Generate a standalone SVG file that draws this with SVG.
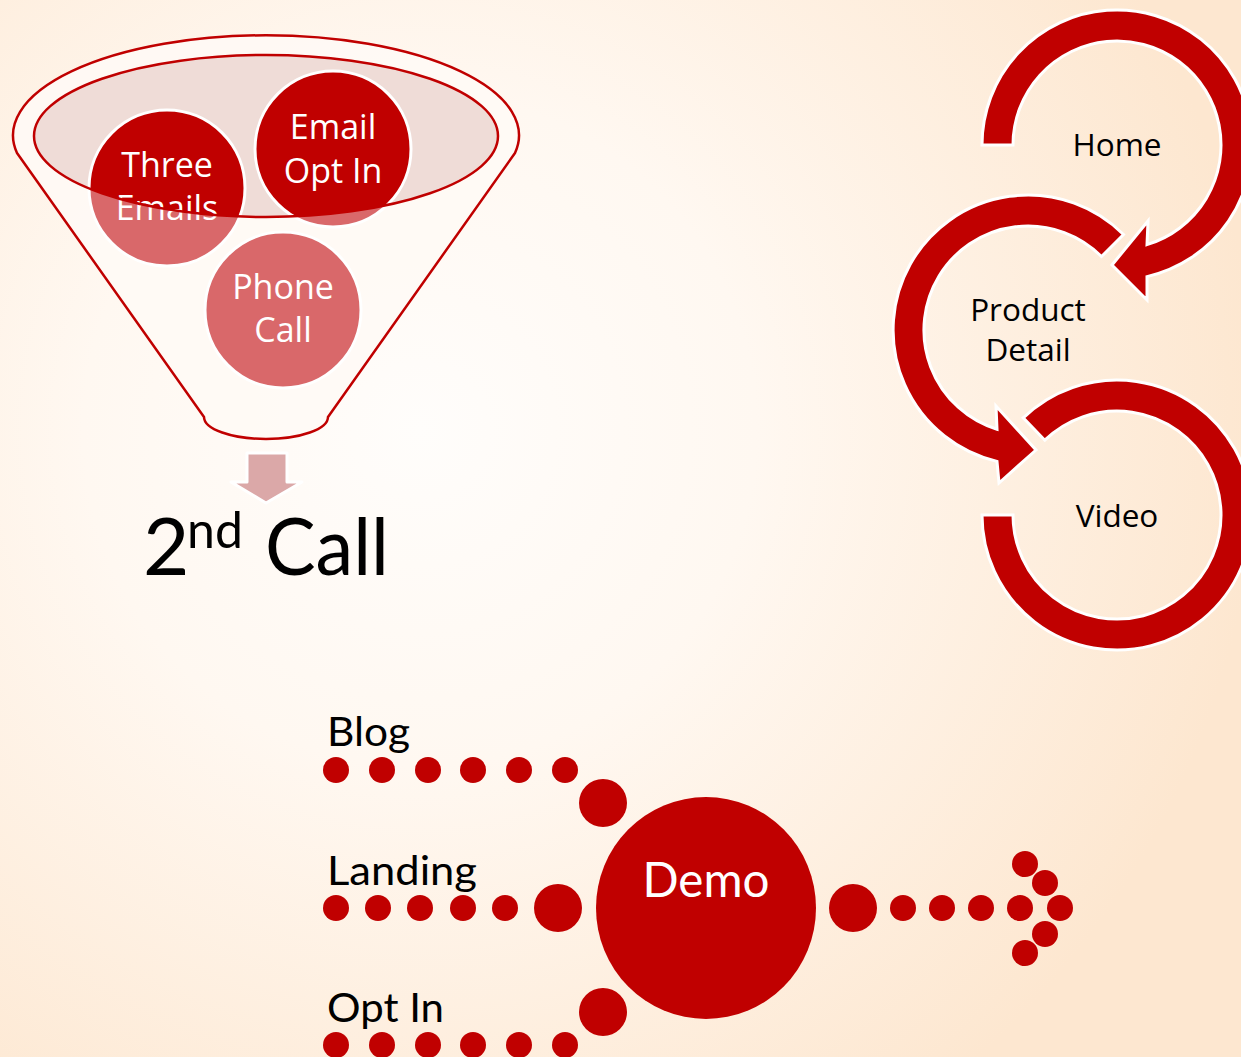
<svg xmlns="http://www.w3.org/2000/svg" width="1241" height="1057" viewBox="0 0 1241 1057">
<defs>
  <radialGradient id="bg" cx="420" cy="430" r="840" gradientUnits="userSpaceOnUse">
    <stop offset="0" stop-color="#fffdfb"/>
    <stop offset="0.4" stop-color="#fff8f1"/>
    <stop offset="1" stop-color="#fde7d0"/>
  </radialGradient>
  <clipPath id="rimClip">
    <ellipse cx="266" cy="136" rx="232" ry="81"/>
  </clipPath>
  <style>
    .red{fill:#c00000}
    .light{fill:#d9686a}
    .ring{fill:#c00000;stroke:#ffffff;stroke-width:3;stroke-linejoin:miter}
    .ftxt{font-family:"Open Sans","DejaVu Sans",sans-serif;font-size:34px;fill:#ffffff;text-anchor:middle}
    .rtxt{font-family:"Open Sans","DejaVu Sans",sans-serif;font-size:31.5px;fill:#000000;text-anchor:middle}
    .ctxt{font-family:Lato,"Liberation Sans",sans-serif;fill:#000000}
    .dot{fill:#c00000}
  </style>
</defs>
<rect x="0" y="0" width="1241" height="1057" fill="url(#bg)"/>

<g id="funnel">
  <path d="M17,153 A253,100 0 1 1 515,153 L328,417 A62,22 0 0 1 204,417 Z" fill="#fff9f5" fill-opacity="0.9" stroke="#c00000" stroke-width="2.5" stroke-linejoin="round"/>
  <ellipse cx="266" cy="136" rx="232" ry="81" fill="#efdcd7"/>
</g>

<g id="node-three-emails">
  <circle cx="167" cy="188" r="78" class="light"/>
  <circle cx="167" cy="188" r="78" class="red" clip-path="url(#rimClip)"/>
  <circle cx="167" cy="188" r="78" fill="none" stroke="#ffffff" stroke-width="3"/>
  <text class="ftxt" x="167" y="177">Three</text>
  <text class="ftxt" x="167" y="220">Emails</text>
</g>
<g id="node-email-opt-in">
  <circle cx="333" cy="149" r="78" class="light"/>
  <circle cx="333" cy="149" r="78" class="red" clip-path="url(#rimClip)"/>
  <circle cx="333" cy="149" r="78" fill="none" stroke="#ffffff" stroke-width="3"/>
  <text class="ftxt" x="333" y="139">Email</text>
  <text class="ftxt" x="333" y="183">Opt In</text>
</g>
<g id="node-phone-call">
  <circle cx="283" cy="310" r="78" class="light" stroke="#ffffff" stroke-width="3"/>
  <text class="ftxt" x="283" y="299">Phone</text>
  <text class="ftxt" x="283" y="342">Call</text>
</g>
<g id="funnel-rim">
  <ellipse cx="266" cy="136" rx="232" ry="81" fill="none" stroke="#c00000" stroke-width="2.5"/>
</g>

<g id="node-2nd-call">
  <polygon points="247,453 287,453 287,482 302,482 266,503 231,482 247,482" fill="#dba8a8" stroke="#ffffff" stroke-width="3" stroke-linejoin="round"/>
  <text class="ctxt" x="143" y="575" font-size="80">2</text>
  <text class="ctxt" x="187" y="548" font-size="50">nd</text>
  <text class="ctxt" x="265" y="575" font-size="80" textLength="124" lengthAdjust="spacingAndGlyphs">Call</text>
</g>

<g id="node-video">
  <path class="ring" d="M1023.2,417.9 A135,135 0 1 1 982,515 L1013,515 A104,104 0 1 0 1044.8,440.2 Z"/>
  <text class="rtxt" x="1117" y="527">Video</text>
</g>
<g id="node-product-detail">
  <path class="ring" d="M1123.5,234.5 A135,135 0 1 0 997,461.4 L999,483 L1036,450 L996,406 L997,429.3 A104,104 0 1 1 1101.5,256.5 Z"/>
  <text class="rtxt" x="1028" y="321">Product</text>
  <text class="rtxt" x="1028" y="361">Detail</text>
</g>
<g id="node-home">
  <path class="ring" d="M982,145 A135,135 0 1 1 1147,276.6 L1147,300 L1112,265 L1148,221 L1147,244.6 A104,104 0 1 0 1013,145 Z"/>
  <text class="rtxt" x="1117" y="156">Home</text>
</g>

<g id="node-blog">
  <text class="ctxt" x="327" y="746" font-size="41" textLength="83" lengthAdjust="spacingAndGlyphs">Blog</text>
</g>
<g id="node-landing">
  <text class="ctxt" x="327" y="885" font-size="41" textLength="150" lengthAdjust="spacingAndGlyphs">Landing</text>
</g>
<g id="node-opt-in">
  <text class="ctxt" x="327" y="1022" font-size="41" textLength="117" lengthAdjust="spacingAndGlyphs">Opt In</text>
</g>
<g id="node-demo">
  <ellipse cx="706" cy="908" rx="110" ry="111" class="red"/>
  <text x="706" y="897" font-family="Lato,'Liberation Sans',sans-serif" font-size="48" fill="#ffffff" text-anchor="middle" textLength="127" lengthAdjust="spacingAndGlyphs">Demo</text>
</g>

<g id="connectors">
  <g id="blog-to-demo">
    <circle class="dot" cx="336" cy="770" r="13"/>
    <circle class="dot" cx="382" cy="770" r="13"/>
    <circle class="dot" cx="428" cy="770" r="13"/>
    <circle class="dot" cx="473" cy="770" r="13"/>
    <circle class="dot" cx="519" cy="770" r="13"/>
    <circle class="dot" cx="565" cy="770" r="13"/>
    <circle class="dot" cx="603" cy="803" r="24"/>
  </g>
  <g id="landing-to-demo">
    <circle class="dot" cx="336" cy="908" r="13"/>
    <circle class="dot" cx="378" cy="908" r="13"/>
    <circle class="dot" cx="420" cy="908" r="13"/>
    <circle class="dot" cx="463" cy="908" r="13"/>
    <circle class="dot" cx="505" cy="908" r="13"/>
    <circle class="dot" cx="558" cy="908" r="24"/>
  </g>
  <g id="optin-to-demo">
    <circle class="dot" cx="336" cy="1045" r="13"/>
    <circle class="dot" cx="382" cy="1045" r="13"/>
    <circle class="dot" cx="428" cy="1045" r="13"/>
    <circle class="dot" cx="473" cy="1045" r="13"/>
    <circle class="dot" cx="519" cy="1045" r="13"/>
    <circle class="dot" cx="565" cy="1045" r="13"/>
    <circle class="dot" cx="603" cy="1012" r="24"/>
  </g>
  <g id="demo-out">
    <circle class="dot" cx="853" cy="908" r="24"/>
    <circle class="dot" cx="903" cy="908" r="13"/>
    <circle class="dot" cx="942" cy="908" r="13"/>
    <circle class="dot" cx="981" cy="908" r="13"/>
    <circle class="dot" cx="1020" cy="908" r="13"/>
    <circle class="dot" cx="1060" cy="908" r="13"/>
    <circle class="dot" cx="1045" cy="883" r="13"/>
    <circle class="dot" cx="1025" cy="864" r="13"/>
    <circle class="dot" cx="1045" cy="934" r="13"/>
    <circle class="dot" cx="1025" cy="953" r="13"/>
  </g>
</g>
</svg>
